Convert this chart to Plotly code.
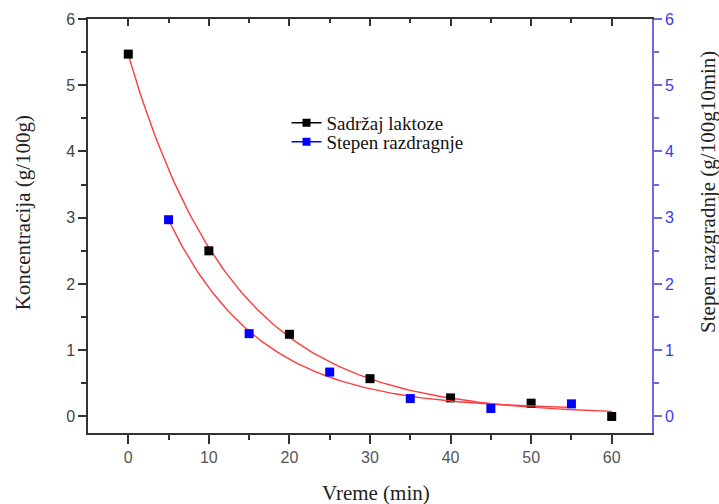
import numpy as np
import plotly.graph_objects as go

# Lactose content (g/100g) measured every 10 min
t_lactose = [0, 10, 20, 30, 40, 50, 60]
lactose = [5.47, 2.50, 1.24, 0.57, 0.28, 0.20, 0.0]

# Degradation rate (g/100g per 10 min), mid-interval times
t_rate = [5, 15, 25, 35, 45, 55]
rate = [2.97, 1.25, 0.67, 0.27, 0.12, 0.19]

x_ticks = [0, 10, 20, 30, 40, 50, 60]
y_ticks = [0, 1, 2, 3, 4, 5, 6]


def exp_decay_fit(x, y):
    """Least-squares fit of y = A*exp(-k*x) + y0 (grid over k, linear in A, y0)."""
    x = np.asarray(x, float)
    y = np.asarray(y, float)
    best = None
    for k in np.linspace(0.005, 0.3, 3000):
        M = np.column_stack([np.exp(-k * x), np.ones_like(x)])
        coef, *_ = np.linalg.lstsq(M, y, rcond=None)
        err = np.sum((M @ coef - y) ** 2)
        if best is None or err < best[0]:
            best = (err, k, coef)
    _, k, (a, y0) = best
    xs = np.linspace(x.min(), x.max(), 200)
    return xs, a * np.exp(-k * xs) + y0


fit_red = "#ff3b3b"
serif = "Liberation Serif"
sans = "Liberation Sans"

fig = go.Figure()

xf, yf = exp_decay_fit(t_lactose, lactose)
fig.add_trace(go.Scatter(x=xf, y=yf, mode="lines", line=dict(color=fit_red, width=1.4),
                         showlegend=False, hoverinfo="skip"))
xf2, yf2 = exp_decay_fit(t_rate, rate)
fig.add_trace(go.Scatter(x=xf2, y=yf2, mode="lines", line=dict(color=fit_red, width=1.4),
                         showlegend=False, hoverinfo="skip", yaxis="y2"))

fig.add_trace(go.Scatter(x=t_lactose, y=lactose, mode="markers",
                         marker=dict(symbol="square", size=9, color="#000000",
                                     line=dict(color="#000000", width=0)),
                         showlegend=False))
fig.add_trace(go.Scatter(x=t_rate, y=rate, mode="markers", yaxis="y2",
                         marker=dict(symbol="square", size=9, color="#0000ff",
                                     line=dict(color="#0000ff", width=0)),
                         showlegend=False))

# legend entries (line + marker) live on a hidden pair of axes
fig.add_trace(go.Scatter(x=t_lactose, y=lactose, mode="lines+markers", name="Sadržaj laktoze",
                         xaxis="x3", yaxis="y3", legend="legend",
                         line=dict(color="#000000", width=1.5),
                         marker=dict(symbol="square", size=8, color="#000000")))
fig.add_trace(go.Scatter(x=t_rate, y=rate, mode="lines+markers", name="Stepen razdragnje",
                         xaxis="x3", yaxis="y3", legend="legend2",
                         line=dict(color="#0000ff", width=1.5),
                         marker=dict(symbol="square", size=8, color="#0000ff")))

# invisible trace keeping the top axis alive
fig.add_trace(go.Scatter(x=[None], y=[None], xaxis="x2", showlegend=False, hoverinfo="skip"))

axis_gray = "#333333"
legend_common = dict(xanchor="left", yanchor="middle",
                     font=dict(family=serif, size=19, color="#111111"),
                     bgcolor="rgba(0,0,0,0)", itemwidth=30)
fig.update_layout(
    width=719, height=504,
    margin=dict(l=88, r=67, t=19, b=71),
    paper_bgcolor="white", plot_bgcolor="white",
    showlegend=True,
    legend=dict(x=0.352, y=(433 - 123) / 414, **legend_common),
    legend2=dict(x=0.352, y=(433 - 142) / 414, **legend_common),
    xaxis=dict(range=[-5, 65], tickvals=x_ticks, showgrid=False, zeroline=False,
               showline=True, linecolor=axis_gray, linewidth=1.5,
               ticks="outside", ticklen=9, tickwidth=1.5, tickcolor=axis_gray,
               tickfont=dict(family=sans, size=16, color="#555555"),
               minor=dict(tickvals=[5, 15, 25, 35, 45, 55], ticks="outside", ticklen=5,
                          tickwidth=1.5, tickcolor=axis_gray)),
    xaxis2=dict(range=[-5, 65], overlaying="x", side="top", anchor="y",
                tickvals=x_ticks, showticklabels=False, showgrid=False, zeroline=False,
                showline=True, linecolor=axis_gray, linewidth=1.5,
                ticks="inside", ticklen=7, tickwidth=1.5, tickcolor=axis_gray,
                minor=dict(tickvals=[5, 15, 25, 35, 45, 55], ticks="inside", ticklen=4,
                           tickwidth=1.5, tickcolor=axis_gray)),
    xaxis3=dict(visible=False, range=[1000, 1001], domain=[0, 0.01], anchor="y3"),
    yaxis3=dict(visible=False, range=[1000, 1001], domain=[0, 0.01], anchor="x3"),
    yaxis=dict(range=[-0.25, 6], tickvals=y_ticks, showgrid=False, zeroline=False,
               showline=True, linecolor=axis_gray, linewidth=1.5,
               ticks="outside", ticklen=8, tickwidth=1.5, tickcolor=axis_gray,
               tickfont=dict(family=sans, size=16, color="#444444"),
               minor=dict(tickvals=[0.5, 1.5, 2.5, 3.5, 4.5, 5.5], ticks="outside",
                          ticklen=5, tickwidth=1.5, tickcolor=axis_gray)),
    yaxis2=dict(range=[-0.25, 6], tickvals=y_ticks, overlaying="y", side="right",
                anchor="x", showgrid=False, zeroline=False,
                showline=True, linecolor="#6a6ae0", linewidth=1.5,
                ticks="outside", ticklen=8, tickwidth=1.5, tickcolor="#6a6ae0",
                tickfont=dict(family=sans, size=16, color="#3a3af0"),
                minor=dict(tickvals=[0.5, 1.5, 2.5, 3.5, 4.5, 5.5], ticks="outside",
                           ticklen=5, tickwidth=1.5, tickcolor="#6a6ae0")),
    annotations=[
        dict(text="Vreme (min)", xref="paper", yref="paper", x=0.51, y=-0.145,
             xanchor="center", yanchor="middle", showarrow=False,
             font=dict(family=serif, size=21, color="#222222")),
        dict(text="Koncentracija (g/100g)", xref="paper", yref="paper", x=-0.115,
             y=0.531, xanchor="center", yanchor="middle", textangle=-90, showarrow=False,
             font=dict(family=serif, size=21, color="#222222")),
        dict(text="Stepen razgradnje (g/100g10min)", xref="paper", yref="paper",
             x=1.098, y=0.583, xanchor="center", yanchor="middle", textangle=-90,
             showarrow=False, font=dict(family=serif, size=21, color="#222222")),
    ],
)

fig.write_html("out.html")
